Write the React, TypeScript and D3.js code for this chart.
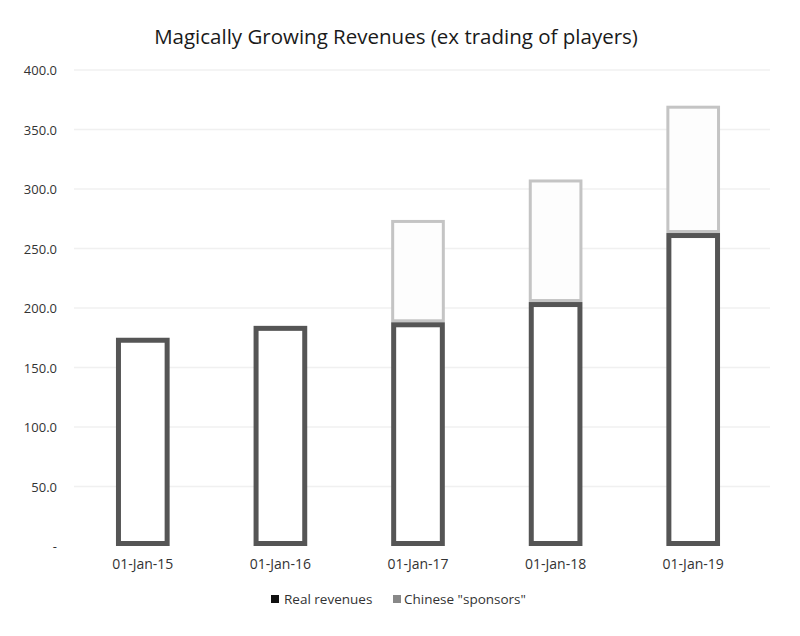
import React from "react";
import * as d3 from "d3";

const categories = ["01-Jan-15", "01-Jan-16", "01-Jan-17", "01-Jan-18", "01-Jan-19"];
const realRevenues = [175, 185, 188, 205, 263];
const chineseSponsors = [0, 0, 86, 103, 107];
const yTicks = [0, 50, 100, 150, 200, 250, 300, 350, 400];
const seriesNames = ["Real revenues", "Chinese \"sponsors\""];

const W = 800;
const H = 636;
const FONT = "'Open Sans', 'Liberation Sans', sans-serif";

export default function App() {
  const x = d3.scaleBand<string>().domain(categories).range([74, 762]).paddingInner(0.61).paddingOuter(0.305);
  const y = d3.scaleLinear().domain([0, 400]).range([546, 70]);
  const bw = x.bandwidth();
  const fmt = (v: number) => (v === 0 ? "-" : d3.format(".1f")(v));

  const darkW = 5;
  const lightW = 3;

  return (
    <svg width={W} height={H} style={{ position: "absolute", left: 0, top: 0, background: "#fff" }}>
      <rect x={0} y={0} width={W} height={H} fill="#fff" />
      <text x={396} y={44} textAnchor="middle" fontFamily={FONT} fontSize={20.5} fill="#1a1a1a">
        Magically Growing Revenues (ex trading of players)
      </text>
      {yTicks.map((t) => (
        <g key={t}>
          {t > 0 && <line x1={74} x2={770} y1={y(t)} y2={y(t)} stroke="#f0f0f0" strokeWidth={1.5} />}
          <text x={57} y={y(t) + 5} textAnchor="end" fontFamily={FONT} fontSize={13} fill="#333">
            {fmt(t)}
          </text>
        </g>
      ))}
      {categories.map((c, i) => {
        const x0 = x(c)!;
        const r = realRevenues[i];
        const s = chineseSponsors[i];
        return (
          <g key={c}>
            {s > 0 && (
              <rect
                x={x0 + lightW / 2}
                y={y(r + s) + lightW / 2}
                width={bw - lightW}
                height={y(r) - y(r + s) - lightW}
                fill="#fdfdfd"
                stroke="#c4c4c4"
                strokeWidth={lightW}
              />
            )}
            <rect
              x={x0 + darkW / 2}
              y={y(r) + darkW / 2}
              width={bw - darkW}
              height={y(0) - y(r) - darkW}
              fill="#fff"
              stroke="#555"
              strokeWidth={darkW}
            />
            <text x={x0 + bw / 2} y={569} textAnchor="middle" fontFamily={FONT} fontSize={14} fill="#333">
              {c}
            </text>
          </g>
        );
      })}
      <g>
        <rect x={271} y={595} width={8} height={8} fill="#111" />
        <text x={284} y={604} fontFamily={FONT} fontSize={13.5} fill="#333">{seriesNames[0]}</text>
        <rect x={393} y={595} width={8} height={8} fill="#888" />
        <text x={404} y={604} fontFamily={FONT} fontSize={13.5} fill="#333">{seriesNames[1]}</text>
      </g>
    </svg>
  );
}
